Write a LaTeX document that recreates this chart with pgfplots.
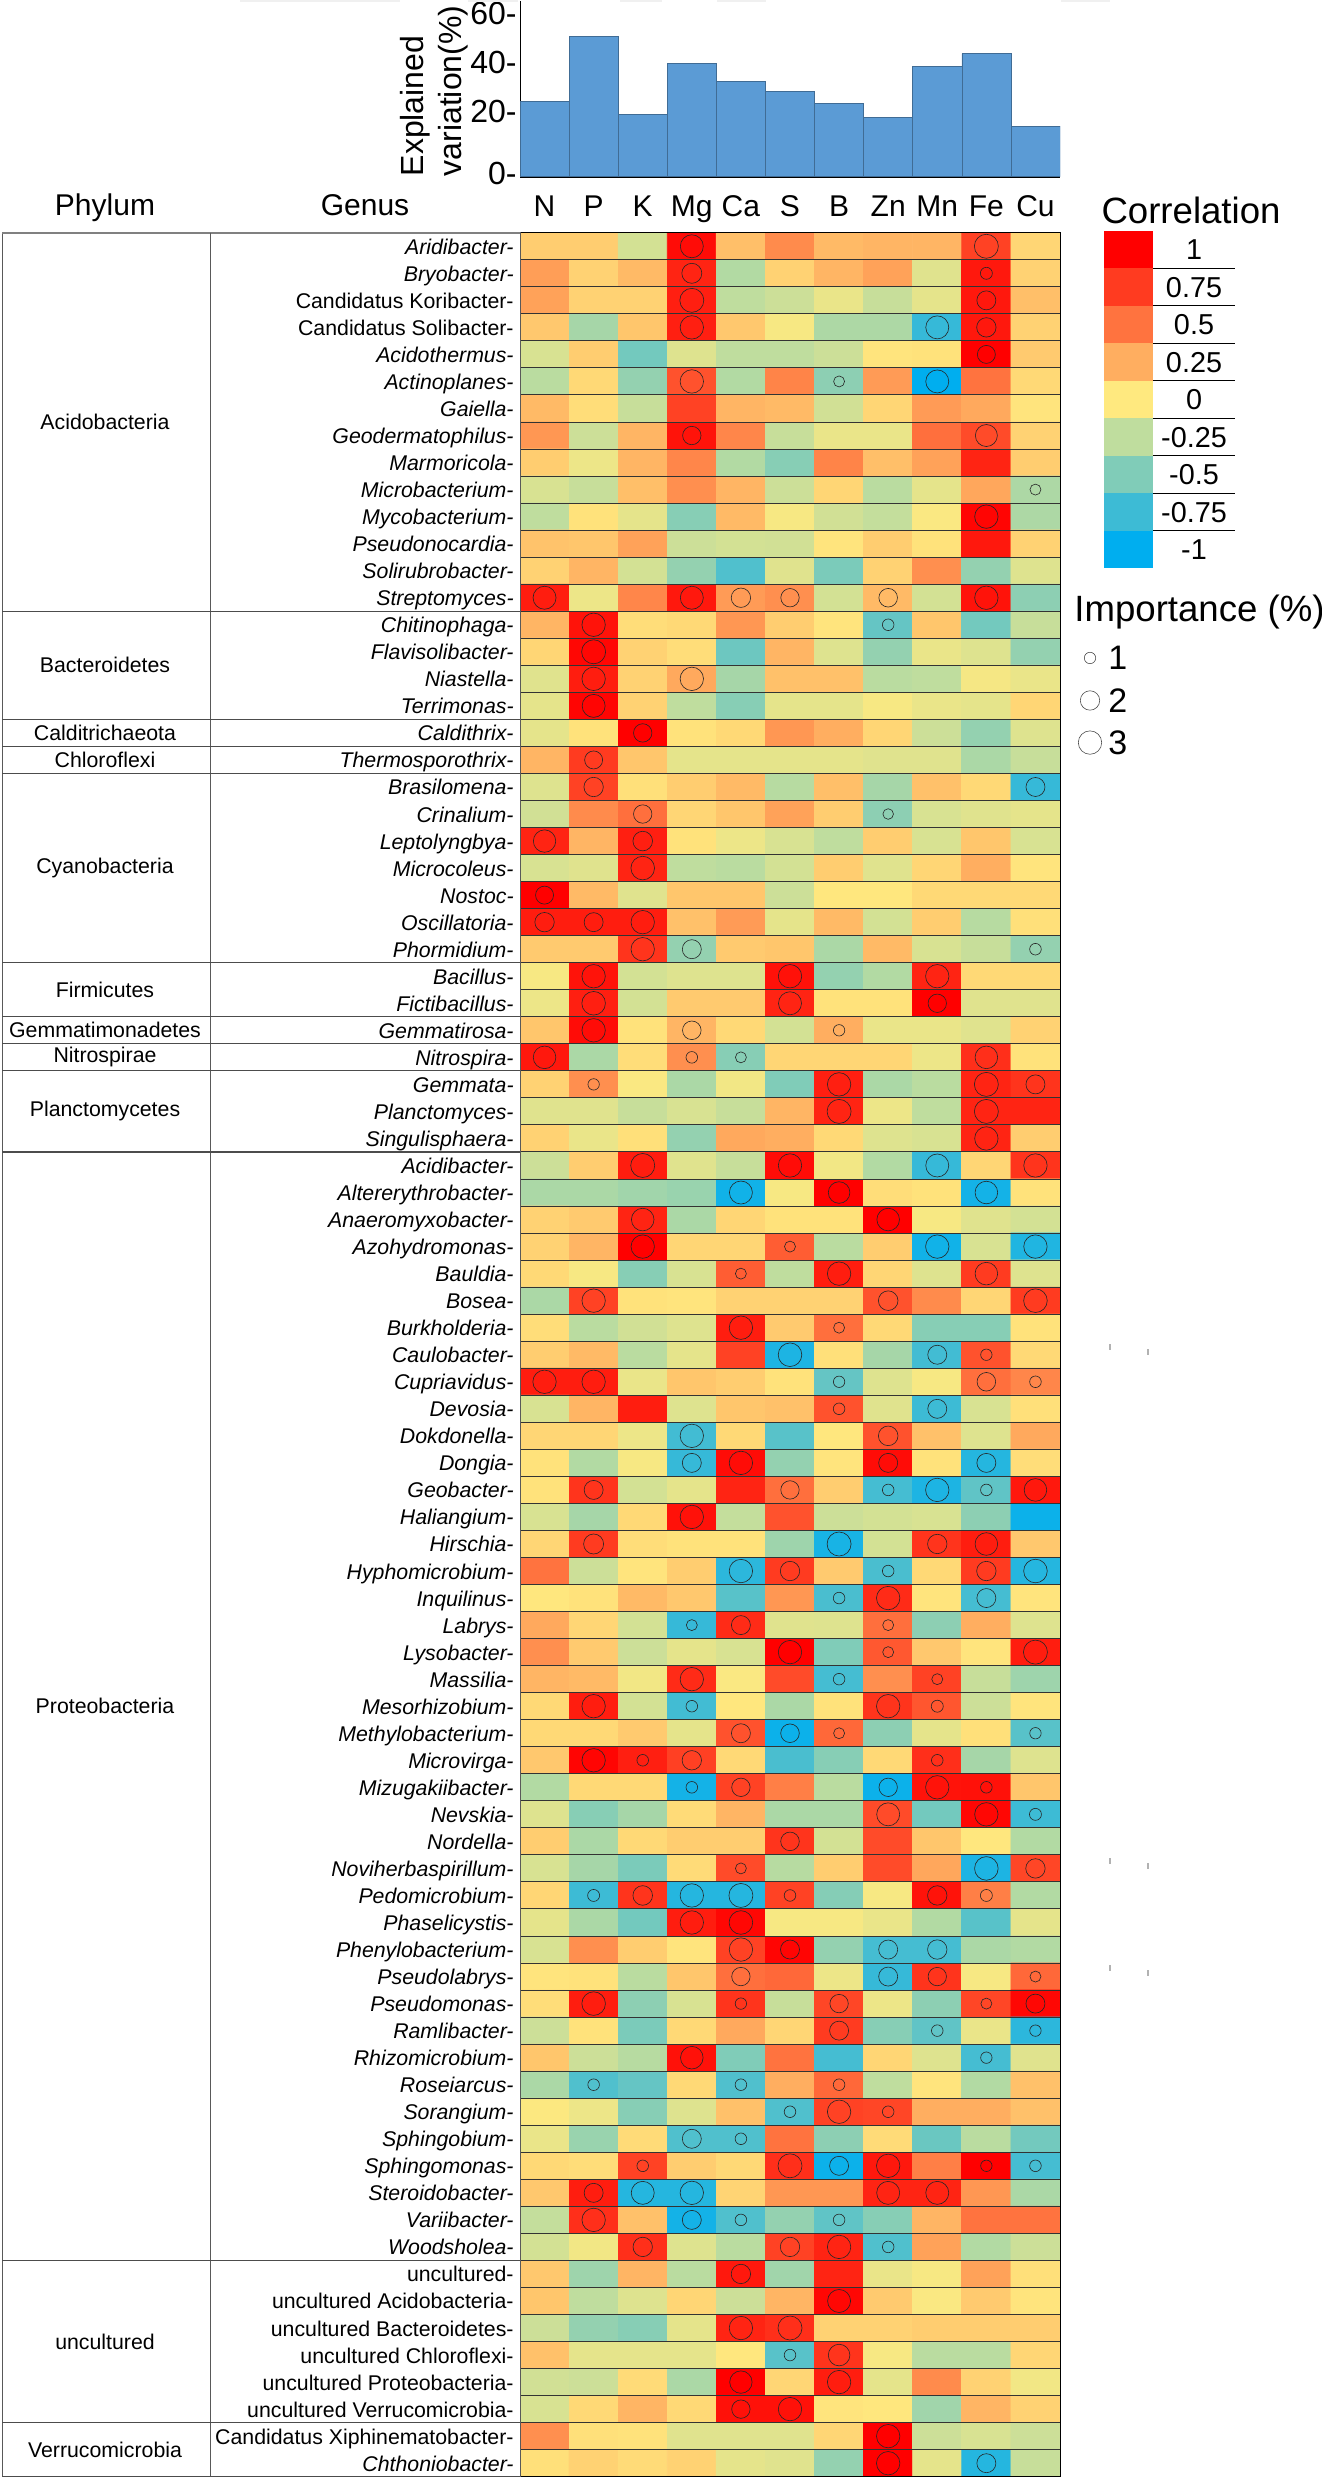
\documentclass[border=0pt]{standalone}
\usepackage{fontspec}
\setmainfont{Liberation Sans}
\usepackage{pgfplots}
\pgfplotsset{compat=1.18}
\newcommand\fs[1]{\fontsize{#1}{#1}\selectfont}
% colour scale, -1 to 1
\pgfplotsset{colormap={corr}{rgb255=(0,174,239) rgb255=(61,187,213) rgb255=(128,204,184) rgb255=(191,221,158) rgb255=(255,233,127) rgb255=(255,174,96) rgb255=(255,115,63) rgb255=(255,59,32) rgb255=(255,0,0)}}
\definecolor{c1}{RGB}{255,0,0}
\definecolor{c2}{RGB}{255,59,32}
\definecolor{c3}{RGB}{255,115,63}
\definecolor{c4}{RGB}{255,174,96}
\definecolor{c5}{RGB}{255,233,127}
\definecolor{c6}{RGB}{191,221,158}
\definecolor{c7}{RGB}{128,204,184}
\definecolor{c8}{RGB}{61,187,213}
\definecolor{c9}{RGB}{0,174,239}
\definecolor{barblue}{RGB}{91,155,213}
\begin{document}
\begin{tikzpicture}
\useasboundingbox (0,0) rectangle (661pt,1239.5pt);

% explained variation bars
\begin{axis}[
  at={(260pt,1151.15pt)}, anchor=south west, scale only axis,
  width=270pt, height=87.85pt,
  xmin=-0.5, xmax=10.5, ymin=0, ymax=64.8,
  axis x line=bottom, axis y line=left,
  x axis line style={-, black, line width=1pt},
  y axis line style={-, black, line width=0.5pt},
  xtick=\empty,
  ytick={1,24,42,60}, yticklabels={0-,20-,40-,60-},
  major tick length=0pt,
  yticklabel style={font=\fs{16}, inner xsep=1.5pt},
  ylabel={Explained\\variation(\%)},
  ylabel style={font=\fontsize{16}{19}\selectfont, align=left, at={(axis description cs:-0.096,0)}, anchor=south west, inner sep=0pt},
]
\addplot[ybar, bar width=1, fill=barblue, draw=barblue!70!black, line width=0.3pt] coordinates {
  (0,27.9) (1,51.7) (2,22.9) (3,41.8) (4,35.0) (5,31.5) (6,26.9) (7,21.9) (8,40.8) (9,45.4) (10,18.6)};
\end{axis}

% correlation heatmap
\begin{axis}[
  at={(260pt,1.15pt)}, anchor=south west, scale only axis,
  width=270pt, height=1122pt,
  xmin=-0.5, xmax=10.5, ymin=-0.5, ymax=82.5, y dir=reverse,
  axis on top, axis line style={black, line width=0.5pt},
  colormap name=corr, point meta min=-1, point meta max=1,
  xtick={0,...,10}, xticklabels={N,P,K,Mg,Ca,S,B,Zn,Mn,Fe,Cu},
  xticklabel pos=top,
  xticklabel style={font=\fs{15}, anchor=base, yshift=8.3pt},
  ytick={0,...,82}, minor y tick num=1, yminorgrids=true,
  minor grid style={black!80, line width=0.5pt},
  major tick length=0pt, minor tick length=0pt,
  yticklabel style={font=\fs{10.65}, anchor=base east, yshift=-4pt, inner xsep=3pt},
  yticklabels={\textit{Aridibacter-},\textit{Bryobacter-},Candidatus Koribacter-,Candidatus Solibacter-,\textit{Acidothermus-},\textit{Actinoplanes-},\textit{Gaiella-},\textit{Geodermatophilus-},\textit{Marmoricola-},\textit{Microbacterium-},\textit{Mycobacterium-},\textit{Pseudonocardia-},\textit{Solirubrobacter-},\textit{Streptomyces-},
  \textit{Chitinophaga-},\textit{Flavisolibacter-},\textit{Niastella-},\textit{Terrimonas-},
  \textit{Caldithrix-},\textit{Thermosporothrix-},
  \textit{Brasilomena-},\textit{Crinalium-},\textit{Leptolyngbya-},\textit{Microcoleus-},\textit{Nostoc-},\textit{Oscillatoria-},\textit{Phormidium-},
  \textit{Bacillus-},\textit{Fictibacillus-},\textit{Gemmatirosa-},\textit{Nitrospira-},
  \textit{Gemmata-},\textit{Planctomyces-},\textit{Singulisphaera-},
  \textit{Acidibacter-},\textit{Altererythrobacter-},\textit{Anaeromyxobacter-},\textit{Azohydromonas-},\textit{Bauldia-},\textit{Bosea-},\textit{Burkholderia-},\textit{Caulobacter-},\textit{Cupriavidus-},\textit{Devosia-},\textit{Dokdonella-},\textit{Dongia-},\textit{Geobacter-},\textit{Haliangium-},\textit{Hirschia-},\textit{Hyphomicrobium-},\textit{Inquilinus-},\textit{Labrys-},\textit{Lysobacter-},\textit{Massilia-},\textit{Mesorhizobium-},\textit{Methylobacterium-},\textit{Microvirga-},\textit{Mizugakiibacter-},\textit{Nevskia-},\textit{Nordella-},\textit{Noviherbaspirillum-},\textit{Pedomicrobium-},\textit{Phaselicystis-},\textit{Phenylobacterium-},\textit{Pseudolabrys-},\textit{Pseudomonas-},\textit{Ramlibacter-},\textit{Rhizomicrobium-},\textit{Roseiarcus-},\textit{Sorangium-},\textit{Sphingobium-},\textit{Sphingomonas-},\textit{Steroidobacter-},\textit{Variibacter-},\textit{Woodsholea-},
  uncultured-,uncultured Acidobacteria-,uncultured Bacteroidetes-,uncultured Chloroflexi-,uncultured Proteobacteria-,uncultured Verrucomicrobia-,
  Candidatus Xiphinematobacter-,\textit{Chthoniobacter-}},
]
% one line per genus, columns N P K Mg Ca S B Zn Mn Fe Cu
\addplot[matrix plot*, mesh/cols=11, point meta=explicit]
  table[row sep=\\, header=false, meta index=0, x expr={mod(\coordindex,11)}, y expr={floor((\coordindex+0.5)/11)}] {
0.12\\0.12\\-0.17\\0.95\\0.18\\0.4\\0.2\\0.22\\0.22\\0.72\\0.08\\
0.32\\0.1\\0.2\\0.85\\-0.3\\0.1\\0.22\\0.3\\-0.12\\0.9\\0.1\\
0.3\\0.1\\0.1\\0.87\\-0.25\\-0.2\\-0.08\\-0.22\\-0.1\\0.9\\0.18\\
0.14\\-0.35\\0.15\\0.87\\0.14\\-0.03\\-0.32\\-0.32\\-0.78\\0.9\\0.1\\
-0.15\\0.12\\-0.55\\-0.13\\-0.25\\-0.25\\-0.2\\0.02\\0.03\\1\\0.13\\
-0.27\\0.07\\-0.42\\0.65\\-0.3\\0.43\\-0.45\\0.33\\-1\\0.5\\0.07\\
0.2\\0.05\\-0.22\\0.72\\0.22\\0.2\\-0.18\\0.08\\0.33\\0.27\\0.02\\
0.35\\-0.2\\0.22\\0.92\\0.42\\-0.22\\-0.08\\-0.08\\0.52\\0.68\\0.1\\
0.12\\-0.07\\0.22\\0.42\\-0.3\\-0.47\\0.43\\0.18\\0.3\\0.85\\0.12\\
-0.15\\-0.22\\0.18\\0.38\\0.22\\-0.2\\0.08\\-0.27\\-0.1\\0.28\\-0.32\\
-0.25\\0.03\\-0.1\\-0.47\\0.2\\-0.03\\-0.18\\-0.23\\-0.02\\0.98\\-0.32\\
0.16\\0.15\\0.3\\-0.2\\-0.17\\-0.18\\0.02\\0.12\\0.03\\0.9\\0.1\\
0.1\\0.22\\-0.17\\-0.42\\-0.68\\-0.12\\-0.52\\0.1\\0.38\\-0.42\\-0.13\\
0.88\\-0.07\\0.42\\0.9\\0.33\\0.38\\-0.17\\0.2\\-0.17\\0.92\\-0.45\\
0.22\\0.92\\0.05\\0.07\\0.35\\0.12\\0.02\\-0.6\\0.15\\-0.55\\-0.22\\
0.08\\0.97\\0.1\\0.05\\-0.57\\0.22\\-0.13\\-0.42\\-0.08\\-0.13\\-0.42\\
-0.12\\0.88\\0.1\\0.27\\-0.35\\0.17\\0.17\\-0.27\\-0.25\\-0.04\\-0.08\\
-0.1\\0.98\\0.1\\-0.25\\-0.47\\-0.1\\-0.1\\-0.03\\-0.08\\-0.1\\0.08\\
-0.1\\0.03\\1\\0.03\\0.07\\0.35\\0.25\\0.08\\-0.2\\-0.42\\-0.13\\
0.22\\0.75\\0.15\\-0.1\\-0.1\\-0.1\\-0.1\\-0.12\\-0.12\\-0.33\\-0.22\\
-0.13\\0.72\\0.04\\0.12\\0.2\\-0.28\\0.18\\-0.35\\0.17\\0.07\\-0.78\\
-0.18\\0.4\\0.52\\0.08\\0.15\\0.3\\0.12\\-0.45\\-0.15\\-0.12\\-0.1\\
0.85\\0.22\\0.87\\0.03\\-0.07\\-0.15\\-0.25\\0.12\\-0.15\\0.15\\-0.15\\
-0.15\\-0.12\\0.85\\-0.25\\-0.27\\-0.17\\0.12\\-0.12\\0.08\\0.25\\0.02\\
1\\0.2\\-0.12\\0.15\\0.15\\-0.2\\0.01\\0.01\\0.07\\0.07\\0.07\\
0.88\\0.88\\0.88\\0.17\\0.33\\-0.1\\0.2\\-0.17\\0.12\\-0.28\\0.04\\
0.13\\0.13\\0.78\\-0.42\\0.13\\0.15\\-0.33\\0.2\\-0.15\\-0.22\\-0.42\\
-0.03\\0.92\\-0.17\\-0.13\\-0.13\\0.93\\-0.42\\-0.3\\0.85\\0.07\\0.07\\
-0.07\\0.87\\-0.17\\0.13\\0.13\\0.85\\0.03\\0.03\\1\\-0.12\\-0.12\\
0.15\\0.95\\0.03\\0.22\\0.07\\-0.17\\0.25\\-0.08\\-0.08\\-0.12\\0.1\\
0.9\\-0.33\\0.05\\0.38\\-0.47\\0.08\\0.08\\0.08\\-0.07\\0.8\\0.03\\
0.1\\0.38\\-0.02\\-0.33\\-0.05\\-0.5\\0.87\\-0.33\\-0.27\\0.85\\0.78\\
-0.12\\-0.12\\-0.22\\-0.15\\-0.22\\0.22\\0.85\\-0.07\\-0.25\\0.85\\0.85\\
0.1\\-0.08\\0.04\\-0.42\\0.27\\0.25\\0.07\\-0.13\\-0.15\\0.85\\0.12\\
-0.2\\0.12\\0.88\\-0.12\\-0.22\\0.95\\-0.05\\-0.3\\-0.78\\0.08\\0.78\\
-0.33\\-0.33\\-0.37\\-0.4\\-0.93\\-0.03\\1\\0.05\\0.03\\-0.92\\0.03\\
0.1\\0.13\\0.85\\-0.33\\0.08\\0.03\\0.03\\1\\-0.03\\-0.12\\-0.17\\
0.1\\0.22\\1\\0.08\\0.08\\0.6\\-0.27\\0.12\\-0.93\\-0.15\\-0.87\\
0.07\\-0.03\\-0.47\\-0.15\\0.6\\-0.25\\0.88\\0.08\\-0.13\\0.75\\-0.13\\
-0.33\\0.72\\0.03\\0.02\\0.1\\0.1\\0.1\\0.65\\0.4\\0.08\\0.75\\
0.05\\-0.27\\-0.18\\-0.13\\0.88\\0.13\\0.52\\0.07\\-0.47\\-0.47\\0.03\\
0.12\\0.2\\-0.27\\-0.1\\0.72\\-0.88\\0.04\\-0.35\\-0.73\\0.65\\0.07\\
0.88\\0.88\\-0.08\\0.15\\0.12\\0.03\\-0.6\\-0.13\\-0.03\\0.52\\0.42\\
-0.15\\0.22\\0.88\\-0.13\\0.15\\0.17\\0.65\\-0.12\\-0.75\\-0.15\\0.04\\
0.08\\0.08\\-0.07\\-0.73\\0.07\\-0.65\\0.01\\0.65\\0.17\\-0.13\\0.27\\
0.03\\-0.3\\-0.03\\-0.78\\0.95\\-0.42\\0.02\\0.95\\0.03\\-0.85\\0.05\\
0.03\\0.78\\-0.17\\-0.1\\0.85\\0.52\\0.12\\-0.72\\-0.88\\-0.62\\0.9\\
-0.15\\-0.35\\0.07\\0.93\\-0.23\\0.65\\-0.2\\-0.17\\-0.15\\-0.45\\-0.95\\
0.08\\0.75\\0.05\\0.03\\0.03\\-0.38\\-0.9\\-0.17\\0.78\\0.88\\0.14\\
0.5\\-0.2\\0.02\\0.12\\-0.82\\0.75\\0.13\\-0.7\\0.07\\0.75\\-0.85\\
0.01\\0.03\\0.2\\0.14\\-0.65\\0.35\\-0.7\\0.82\\0.02\\-0.72\\0.02\\
0.27\\0.08\\-0.17\\-0.78\\0.82\\-0.12\\-0.13\\0.52\\-0.45\\0.25\\-0.13\\
0.38\\0.13\\-0.2\\-0.1\\-0.15\\1\\-0.5\\0.62\\0.14\\0.02\\0.88\\
0.22\\0.2\\-0.05\\0.82\\-0.02\\0.68\\-0.72\\0.38\\0.72\\-0.22\\-0.38\\
0.07\\0.88\\-0.17\\-0.73\\0.01\\-0.33\\0.03\\0.78\\0.63\\-0.2\\0.02\\
0.07\\0.07\\0.13\\-0.1\\0.65\\-0.95\\0.55\\-0.45\\-0.1\\0.04\\-0.65\\
0.14\\0.98\\0.87\\0.73\\0.07\\-0.7\\-0.47\\0.07\\0.8\\-0.35\\-0.13\\
-0.3\\0.07\\0.07\\-0.92\\0.72\\0.45\\-0.27\\-0.95\\0.92\\0.93\\0.15\\
-0.13\\-0.47\\-0.35\\0.06\\0.22\\-0.33\\-0.33\\0.68\\-0.55\\0.97\\-0.75\\
0.12\\-0.33\\0.07\\0.12\\0.12\\0.78\\-0.17\\0.68\\0.15\\0.01\\-0.3\\
-0.15\\-0.35\\-0.52\\0.06\\0.68\\-0.28\\0.12\\0.68\\0.28\\-0.88\\0.7\\
0.08\\-0.75\\0.78\\-0.85\\-0.85\\0.72\\-0.48\\-0.03\\0.92\\0.45\\-0.3\\
-0.1\\-0.33\\-0.55\\0.88\\0.97\\-0.03\\-0.03\\-0.08\\-0.3\\-0.65\\-0.1\\
-0.15\\0.38\\0.12\\0.02\\0.72\\0.98\\-0.42\\-0.72\\-0.72\\-0.33\\-0.3\\
0.02\\0.03\\-0.27\\0.15\\0.52\\0.55\\-0.07\\-0.78\\0.78\\-0.03\\0.55\\
0.05\\0.88\\-0.45\\-0.15\\0.78\\-0.22\\0.7\\-0.07\\-0.45\\0.7\\0.97\\
-0.2\\0.03\\-0.52\\0.07\\0.27\\0.08\\0.75\\-0.47\\-0.62\\-0.08\\-0.82\\
0.15\\-0.2\\-0.28\\0.93\\-0.5\\0.5\\-0.72\\0.08\\-0.13\\-0.72\\-0.12\\
-0.33\\-0.68\\-0.6\\0.07\\-0.68\\0.25\\0.55\\-0.25\\0.02\\-0.3\\0.17\\
-0.01\\-0.07\\-0.47\\-0.13\\0.17\\-0.68\\0.72\\0.7\\0.25\\0.25\\0.17\\
-0.08\\-0.4\\0.06\\-0.68\\-0.68\\0.5\\-0.45\\0.06\\-0.58\\-0.27\\-0.55\\
0.07\\0.05\\0.72\\0.12\\0.07\\0.8\\-0.95\\0.9\\0.45\\1\\-0.72\\
0.14\\0.88\\-0.85\\-0.85\\0.09\\0.35\\0.35\\0.85\\0.85\\0.35\\-0.33\\
-0.23\\0.8\\0.17\\-0.92\\-0.68\\-0.42\\-0.62\\-0.47\\0.22\\0.5\\0.5\\
-0.17\\-0.05\\0.8\\-0.13\\-0.27\\0.72\\0.85\\-0.68\\0.3\\-0.3\\-0.2\\
0.14\\-0.38\\0.22\\-0.27\\0.9\\-0.37\\0.85\\-0.08\\-0.03\\0.3\\0.04\\
0.15\\-0.25\\-0.13\\0.08\\-0.2\\0.22\\0.97\\0.13\\-0.02\\0.13\\0.02\\
-0.2\\-0.42\\-0.47\\-0.1\\0.85\\0.8\\0.1\\0.1\\0.12\\0.12\\0.12\\
0.17\\-0.1\\-0.1\\-0.1\\0.01\\-0.65\\0.78\\-0.03\\-0.27\\-0.27\\0.08\\
-0.18\\-0.2\\0.06\\-0.33\\1\\0.08\\0.88\\-0.1\\0.4\\0.1\\-0.05\\
-0.15\\0.07\\0.22\\0.07\\0.93\\0.93\\0.02\\0.01\\-0.37\\0.22\\0.1\\
0.38\\0.04\\0.03\\-0.12\\-0.12\\-0.12\\0.08\\1\\-0.2\\-0.15\\-0.2\\
0.04\\0.1\\0.06\\0.1\\-0.1\\-0.12\\-0.42\\1\\-0.1\\-0.85\\-0.22\\
};
% importance circles: column, row, radius in px
\addplot[scatter, only marks, mark=o, scatter/use mapped color={draw=black!85, fill=none},
  mark options={line width=0.3pt},
  visualization depends on={0.5*\thisrow{r} \as \perpointmarksize},
  scatter/@pre marker code/.append style={/tikz/mark size=\perpointmarksize}]
  table[row sep=\\, x=x, y=y] {
x y r\\
3 0 11.5\\ 9 0 12\\
3 1 10\\ 9 1 6\\
3 2 12\\ 9 2 9.5\\
3 3 11.7\\ 8 3 11.5\\ 9 3 9.7\\
9 4 9\\
3 5 11.7\\ 6 5 5.5\\ 8 5 11.5\\
3 7 9.2\\ 9 7 11\\
10 9 5.5\\
9 10 11.7\\
0 13 11.5\\ 3 13 11.5\\ 4 13 9.7\\ 5 13 9.2\\ 7 13 9.3\\ 9 13 11.7\\
1 14 11.7\\ 7 14 5.8\\
1 15 12\\
1 16 11.7\\ 3 16 11.7\\
1 17 11.5\\
2 18 9.2\\
1 19 9\\
1 20 9.7\\ 10 20 9.5\\
2 21 9.2\\ 7 21 5.3\\
0 22 11.2\\ 2 22 9.8\\
2 23 11.8\\
0 24 9\\
0 25 9.7\\ 1 25 9.5\\ 2 25 11.7\\
2 26 11.7\\ 3 26 9.5\\ 10 26 5.8\\
1 27 11.7\\ 5 27 11.7\\ 8 27 11.7\\
1 28 11.8\\ 5 28 11.5\\ 8 28 9.2\\
1 29 11.7\\ 3 29 9.3\\ 6 29 5.7\\
0 30 11.3\\ 3 30 5.8\\ 4 30 5.5\\ 9 30 11.3\\
1 31 5.7\\ 6 31 11.7\\ 9 31 12\\ 10 31 9.5\\
6 32 12\\ 9 32 12\\
9 33 11.7\\
2 34 12\\ 5 34 11.7\\ 8 34 11.5\\ 10 34 11.7\\
4 35 11.5\\ 6 35 10.8\\ 9 35 11.3\\
2 36 11.3\\ 7 36 11.3\\
2 37 11.7\\ 5 37 5.5\\ 8 37 11.7\\ 10 37 11.7\\
4 38 5.5\\ 6 38 11.7\\ 9 38 11.3\\
1 39 11.7\\ 7 39 9.8\\ 10 39 11.8\\
4 40 11.7\\ 6 40 5.5\\
5 41 11.8\\ 8 41 9.5\\ 9 41 5.7\\
0 42 11.7\\ 1 42 11.7\\ 6 42 5.7\\ 9 42 9.3\\ 10 42 5.8\\
6 43 5.8\\ 8 43 9.5\\
3 44 11.7\\ 7 44 9.8\\
3 45 9.5\\ 4 45 11.7\\ 7 45 9.5\\ 9 45 9.5\\
1 46 9.5\\ 5 46 9.2\\ 7 46 5.8\\ 8 46 11.7\\ 9 46 5.8\\ 10 46 11.3\\
3 47 11.7\\
1 48 10\\ 6 48 12\\ 8 48 9.7\\ 9 48 11.3\\
4 49 11.7\\ 5 49 9.7\\ 7 49 5.8\\ 9 49 9.7\\ 10 49 11.8\\
6 50 5.8\\ 7 50 11.7\\ 9 50 9.5\\
3 51 5.5\\ 4 51 9.5\\ 7 51 5.5\\
5 52 11.7\\ 7 52 5.5\\ 10 52 12\\
3 53 11.7\\ 6 53 5.8\\ 8 53 5.5\\
1 54 11.7\\ 3 54 5.8\\ 7 54 11.7\\ 8 54 6\\
4 55 9.5\\ 5 55 9.3\\ 6 55 5.5\\ 10 55 5.7\\
1 56 11.7\\ 2 56 5.8\\ 3 56 9.7\\ 8 56 5.8\\
3 57 5.8\\ 4 57 9.2\\ 7 57 9.2\\ 8 57 11.7\\ 9 57 5.8\\
7 58 11.5\\ 9 58 11.7\\ 10 58 6\\
5 59 9.3\\
4 60 5.5\\ 9 60 11.8\\ 10 60 9.7\\
1 61 6\\ 2 61 9.8\\ 3 61 11.7\\ 4 61 12\\ 5 61 5.8\\ 8 61 9.7\\ 9 61 6\\
3 62 11.7\\ 4 62 11.8\\
4 63 11.7\\ 5 63 9.5\\ 7 63 9.5\\ 8 63 9.7\\
4 64 9.2\\ 7 64 9.5\\ 8 64 9.2\\ 10 64 5.5\\
1 65 11.8\\ 4 65 5.7\\ 6 65 9.2\\ 9 65 5.5\\ 10 65 9.5\\
6 66 9.5\\ 8 66 5.8\\ 10 66 5.7\\
3 67 11.3\\ 9 67 5.7\\
1 68 5.8\\ 4 68 5.8\\ 6 68 5.8\\
5 69 5.8\\ 6 69 11.7\\ 7 69 5.8\\
3 70 9.5\\ 4 70 5.8\\
2 71 5.8\\ 5 71 12\\ 6 71 9.5\\ 7 71 11.7\\ 9 71 5.7\\ 10 71 5.8\\
1 72 9.5\\ 2 72 11.5\\ 3 72 11.7\\ 7 72 11.5\\ 8 72 11.5\\
1 73 11.7\\ 3 73 9.5\\ 4 73 5.8\\ 6 73 5.8\\
2 74 9.7\\ 5 74 9.7\\ 6 74 11.7\\ 7 74 5.8\\
4 75 9.7\\
6 76 11.5\\
4 77 11.7\\ 5 77 12\\
5 78 5.8\\ 6 78 10.8\\
4 79 11.2\\ 6 79 11.7\\
4 80 9.2\\ 5 80 11.7\\
7 81 11.7\\
7 82 11.7\\ 9 82 9.5\\
};
\end{axis}

% phylum table and legends, coordinates in reference pixels
\begin{scope}[x=0.5pt, y=-0.5pt, yshift=1239.5pt]
  \draw[gray!70!black, line width=0.5pt] (2,232.7) rectangle (520,2476.7);
  \draw[gray, line width=1pt] (2,232.7) -- (520,232.7);
  \draw[gray!70!black, line width=0.5pt] (210,232.7) -- (210,2476.7);
  \foreach \name/\a/\b in {Acidobacteria/0/14,Bacteroidetes/14/18,Calditrichaeota/18/19,Chloroflexi/19/20,Cyanobacteria/20/27,Firmicutes/27/29,Gemmatimonadetes/29/30,Nitrospirae/30/31,Planctomycetes/31/34,Proteobacteria/34/75,uncultured/75/81,Verrucomicrobia/81/83}{
    \draw[gray!60!black, line width=0.6pt] (2,{232.7+27.036*\b}) -- (520,{232.7+27.036*\b});
    \node[font=\fs{10.65}] at (105,{232.7+27.036*(\a+\b)/2}) {\name};
  }
  \node[font=\fs{15}, anchor=base] at (105,215.5) {Phylum};
  \node[font=\fs{15}, anchor=base] at (365,215.5) {Genus};

  \node[font=\fs{18.3}] at (1191,210) {Correlation};
  \foreach \i/\c/\l in {0/c1/1,1/c2/0.75,2/c3/0.5,3/c4/0.25,4/c5/0,5/c6/-0.25,6/c7/-0.5,7/c8/-0.75,8/c9/-1}{
    \fill[\c] (1104,{231+37.5*\i}) rectangle (1153,{231+37.5*(\i+1)});
    \node[font=\fs{14.4}] at (1194,{231+37.5*(\i+0.5)}) {\l};
    \ifnum\i<8 \draw[black, line width=0.5pt] (1153,{231+37.5*(\i+1)}) -- (1235,{231+37.5*(\i+1)}); \fi
  }
  \node[font=\fs{18.3}, anchor=west, inner sep=0pt] at (1074,612) {Importance (\%)};
  \foreach \yy/\rr/\l in {658/5.7/1,700.5/9.7/2,742.6/11.7/3}{
    \draw[black!70, line width=0.3pt] (1090,\yy) circle[radius=\rr];
    \node[font=\fs{17}, anchor=west, inner sep=0pt] at (1108,\yy) {\l};
  }
  % faint specks and strips that the reference carries
  \foreach \xa/\xb in {240/400,468/518,620/662,717/766,1061/1110}
    \fill[black!6] (\xa,0) rectangle (\xb,2.5);
  \foreach \yy in {1347,1861,1968}{
    \fill[black!30] (1109,\yy-3) rectangle (1111,\yy+3);
    \fill[black!30] (1147,\yy+2) rectangle (1149,\yy+8);
  }
\end{scope}
\end{tikzpicture}
\end{document}
